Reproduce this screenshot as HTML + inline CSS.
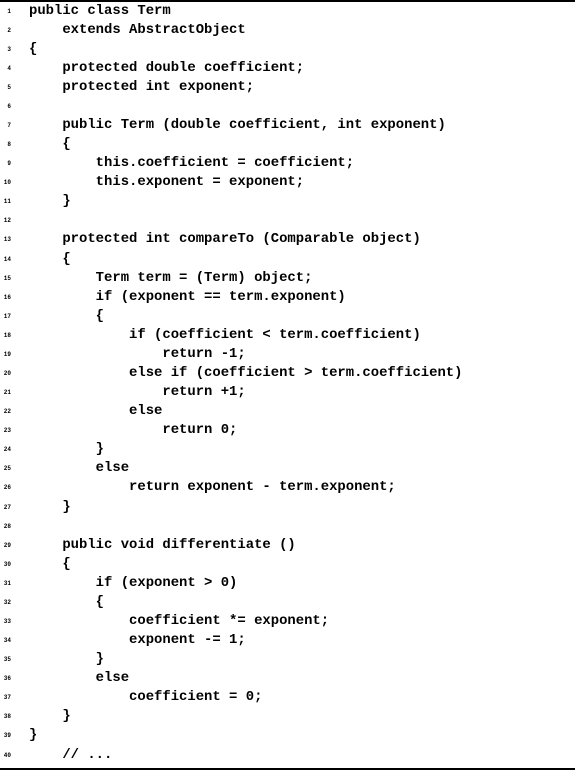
<!DOCTYPE html>
<html><head><meta charset="utf-8"><style>
html,body{margin:0;padding:0;background:#fff;}
body{width:575px;height:771px;position:relative;overflow:hidden;}
.top{position:absolute;left:0;top:0;width:575px;height:2px;background:#000;}
.bot{position:absolute;left:0;top:768px;width:575px;height:2px;background:#000;}
pre{margin:0;position:absolute;top:1.5px;font-family:"Liberation Mono",monospace;font-weight:bold;line-height:19.08px;color:#000;}
#code{left:29px;font-size:13.9px;}
#nums{left:0;width:11px;text-align:right;font-size:6px;}
</style></head><body>
<div class="top"></div><div class="bot"></div>
<pre id="nums">1
2
3
4
5
6
7
8
9
10
11
12
13
14
15
16
17
18
19
20
21
22
23
24
25
26
27
28
29
30
31
32
33
34
35
36
37
38
39
40</pre>
<pre id="code">public class Term
    extends AbstractObject
{
    protected double coefficient;
    protected int exponent;

    public Term (double coefficient, int exponent)
    {
        this.coefficient = coefficient;
        this.exponent = exponent;
    }

    protected int compareTo (Comparable object)
    {
        Term term = (Term) object;
        if (exponent == term.exponent)
        {
            if (coefficient &lt; term.coefficient)
                return -1;
            else if (coefficient &gt; term.coefficient)
                return +1;
            else
                return 0;
        }
        else
            return exponent - term.exponent;
    }

    public void differentiate ()
    {
        if (exponent &gt; 0)
        {
            coefficient *= exponent;
            exponent -= 1;
        }
        else
            coefficient = 0;
    }
}
    // ...</pre>
</body></html>
